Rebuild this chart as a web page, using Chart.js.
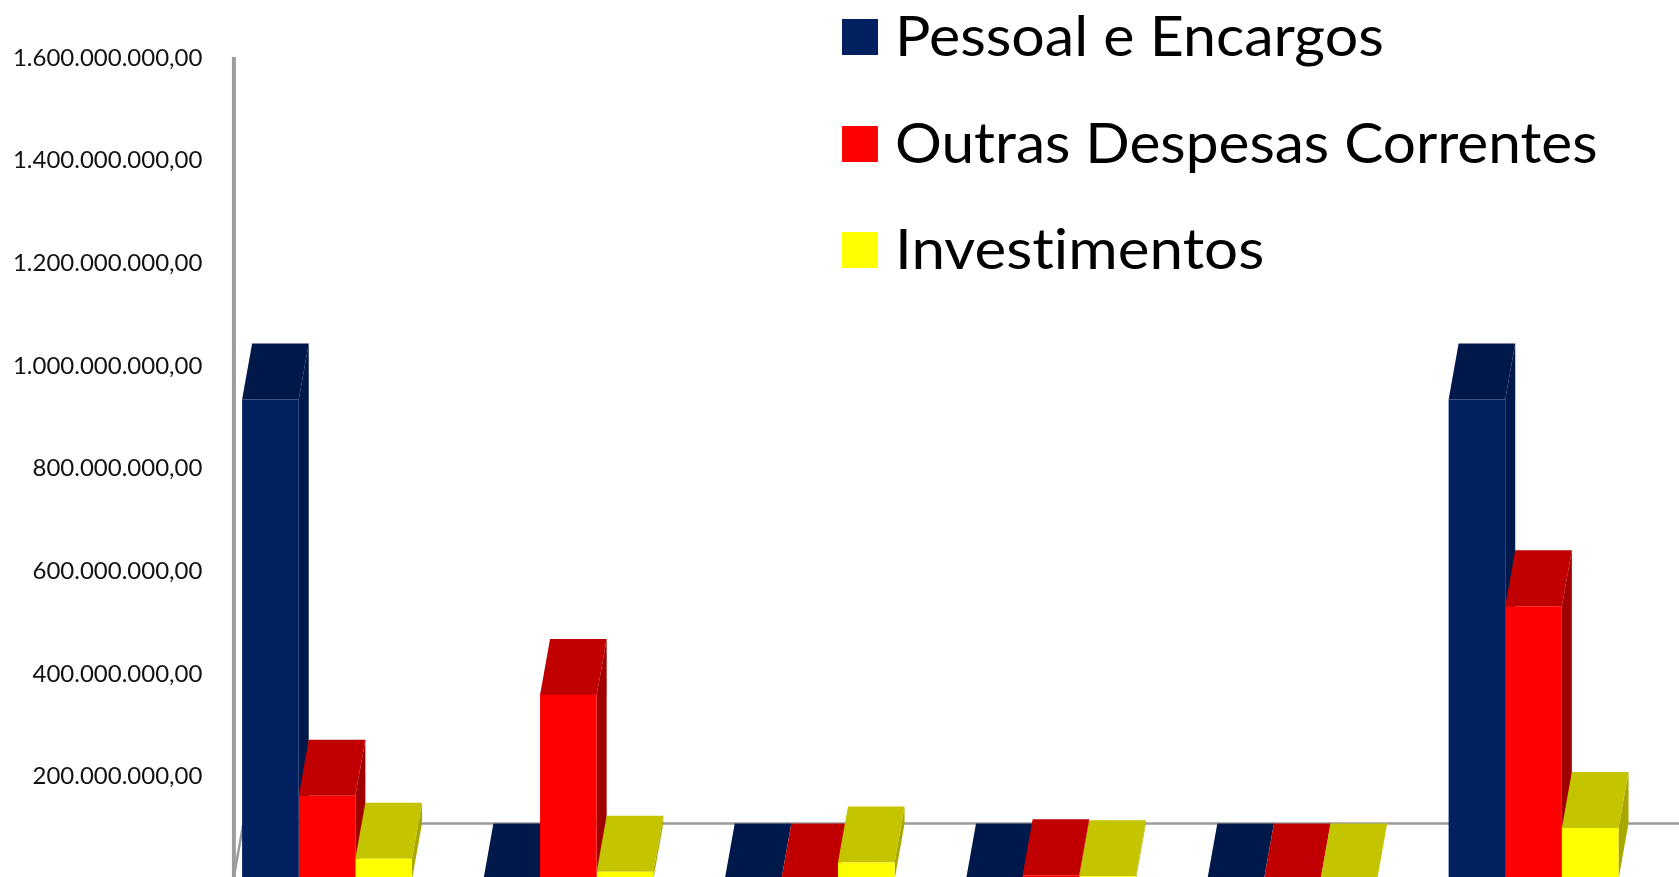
<!DOCTYPE html>
<html>
<head>
<meta charset="utf-8">
<style>
    html, body { margin: 0; padding: 0; width: 1679px; height: 877px; overflow: hidden; background: #fff; }
    #wrap { position: relative; width: 1679px; height: 877px; overflow: hidden; }
    #chart { position: absolute; left: 0; top: 0; }
    #legend { position: absolute; left: 842px; top: 0; font-family: Lato, sans-serif; font-size: 57px; font-variant-ligatures: none; color: #000; }
    .leg-item { position: absolute; left: 0; white-space: nowrap; height: 36px; }
    .leg-box { position: absolute; left: 0; top: 0; width: 36px; height: 36px; }
    .leg-text { position: absolute; left: 53px; bottom: -8px; line-height: 1; transform-origin: left bottom; }
</style>
</head>
<body>
<div id="wrap">
    <canvas id="chart" width="1679" height="900"></canvas>
    <div id="legend"></div>
</div>
<script src="https://cdn.jsdelivr.net/npm/chart.js@4"></script>
<script>
    const categories = ['1', '2', '3', '4', '5', '6'];
    const seriesNames = ['Pessoal e Encargos', 'Outras Despesas Correntes', 'Investimentos'];
    const pessoal = [935000000, 0, 0, 0, 0, 935000000];
    const outras = [163000000, 359000000, 0, 8000000, 0, 532000000];
    const investimentos = [40000000, 15000000, 33000000, 6000000, 0, 100000000];
    const yMax = 1600000000;
    const yStep = 200000000;

    const frontColors = ['#002060', '#ff0000', '#ffff00'];
    const topColors = ['#00184a', '#c00000', '#c4c400'];
    const sideColors = ['#00184a', '#a00000', '#a8a800'];
    const depthX = 10;
    const depthY = 56;
    const legendTops = [19, 126, 232];
    const legendStretch = [1.037, 1.027, 1.055];

    // caixa 3D: topo e lateral desenhados atras da face da frente
    const bars3d = {
        id: 'bars3d',
        beforeDatasetsDraw(chart) {
            const c = chart.ctx;
            const left = chart.chartArea.left;
            const floorY = chart.chartArea.bottom - depthY;

            c.save();
            c.strokeStyle = '#9c9c9c';
            c.lineWidth = 4;
            c.beginPath();
            c.moveTo(left + 27.5, 57);
            c.lineTo(left + 27.5, 900);
            c.stroke();
            c.lineWidth = 2.5;
            c.beginPath();
            c.moveTo(left + 27 + depthX, floorY);
            c.lineTo(1679, floorY);
            c.moveTo(left + 27 + depthX, floorY);
            c.lineTo(left + 27, floorY + depthY);
            c.stroke();

            chart.data.datasets.forEach(function(ds, i) {
                chart.getDatasetMeta(i).data.forEach(function(bar) {
                    const x0 = bar.x - bar.width / 2;
                    const x1 = bar.x + bar.width / 2;
                    c.fillStyle = sideColors[i];
                    c.beginPath();
                    c.moveTo(x1, bar.y);
                    c.lineTo(x1 + depthX, bar.y - depthY);
                    c.lineTo(x1 + depthX, bar.base - depthY);
                    c.lineTo(x1, bar.base);
                    c.closePath();
                    c.fill();
                    c.fillStyle = topColors[i];
                    c.beginPath();
                    c.moveTo(x0, bar.y);
                    c.lineTo(x0 + depthX, bar.y - depthY);
                    c.lineTo(x1 + depthX, bar.y - depthY);
                    c.lineTo(x1, bar.y);
                    c.closePath();
                    c.fill();
                });
            });
            c.restore();
        }
    };

    const chart = new Chart(document.getElementById('chart'), {
        type: 'bar',
        data: {
            labels: categories,
            datasets: [
                { label: seriesNames[0], data: pessoal, backgroundColor: frontColors[0] },
                { label: seriesNames[1], data: outras, backgroundColor: frontColors[1] },
                { label: seriesNames[2], data: investimentos, backgroundColor: frontColors[2] }
            ]
        },
        options: {
            responsive: false,
            animation: false,
            categoryPercentage: 0.704,
            barPercentage: 1,
            layout: { padding: { top: 58, bottom: 20.6, right: 24.8, left: 0 } },
            plugins: {
                legend: { display: false },
                tooltip: { enabled: false }
            },
            scales: {
                x: { display: false },
                y: {
                    min: 0,
                    max: yMax,
                    ticks: {
                        stepSize: yStep,
                        padding: 4,
                        color: '#111',
                        font: { family: 'Lato', size: 24 },
                        callback: function(v) {
                            if (v === 0) return '';
                            return v.toLocaleString('pt-BR', { minimumFractionDigits: 2 });
                        }
                    },
                    grid: { display: false, drawTicks: false },
                    border: { display: false },
                    afterFit: function(scale) { scale.width = 206.4; }
                }
            }
        },
        plugins: [bars3d]
    });

    // legenda em html, a partir dos datasets
    const legend = document.getElementById('legend');
    chart.data.datasets.forEach(function(ds, i) {
        const item = document.createElement('div');
        item.className = 'leg-item';
        item.style.top = legendTops[i] + 'px';
        const box = document.createElement('div');
        box.className = 'leg-box';
        box.style.background = ds.backgroundColor;
        const text = document.createElement('div');
        text.className = 'leg-text';
        text.textContent = ds.label;
        text.style.transform = 'scaleX(' + legendStretch[i] + ')';
        item.appendChild(box);
        item.appendChild(text);
        legend.appendChild(item);
    });
</script>
</body>
</html>
